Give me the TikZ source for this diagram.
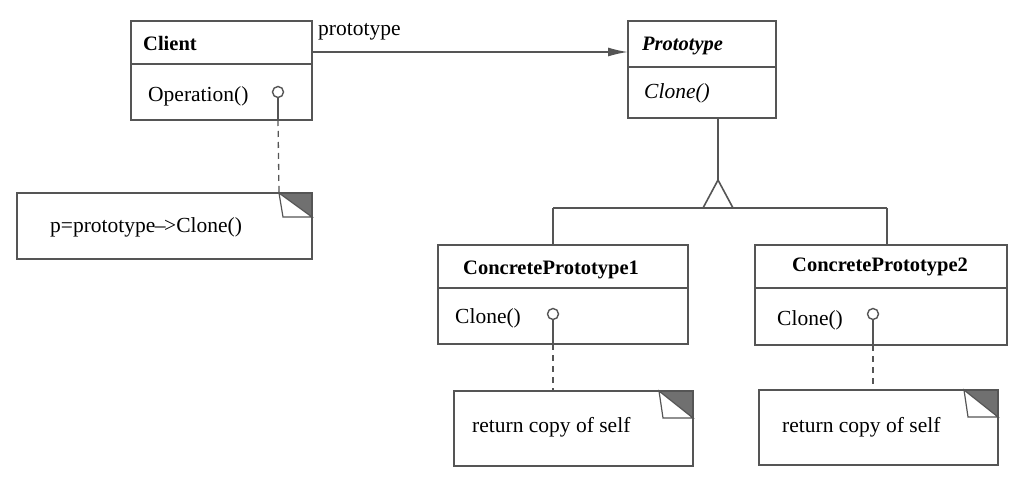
\documentclass[tikz,border=0pt]{standalone}
\usepackage{fontspec}
\setmainfont{Liberation Serif}
\usetikzlibrary{arrows.meta,calc}
\definecolor{linec}{HTML}{555555}
\definecolor{foldc}{HTML}{707070}
\begin{document}
\begin{tikzpicture}[x=1pt,y=-1pt,
  box/.style={draw=linec,line width=1.6pt,anchor=north west,inner sep=0pt,outer sep=0pt},
  txt/.style={anchor=west,inner sep=0pt,font=\fontsize{21.5}{25}\selectfont},
  btxt/.style={anchor=west,inner sep=0pt,font=\fontsize{20.5}{24}\selectfont\bfseries},
  conn/.style={draw=linec,line width=1.6pt},
  dashconn/.style={draw=linec,line width=1.3pt,dash pattern=on 6pt off 5pt},
  lolli/.style={circle,draw=linec,line width=1.4pt,minimum size=11pt,inner sep=0pt},
  foldtri/.style={fill=foldc,draw=linec,line width=1pt}]
\useasboundingbox (0,0) rectangle (1024,478);
% Client
\node[box,minimum width=181pt,minimum height=43pt] (clienthead) at (131,21) {};
\node[box,minimum width=181pt,minimum height=56pt] (clientbody) at (131,64) {};
\node[btxt] (tclient) at (143,43) {Client};
\node[txt] (top) at (148,96) {Operation()};
\node[lolli] (lp0) at (278,92) {};
% Prototype
\node[box,minimum width=148pt,minimum height=46pt] (protohead) at (628,21) {};
\node[box,minimum width=148pt,minimum height=51pt] (protobody) at (628,67) {};
\node[btxt,font=\fontsize{20.5}{24}\selectfont\bfseries\itshape] (tproto) at (642,46) {Prototype};
\node[txt,font=\fontsize{21.5}{25}\selectfont\itshape] (tpclone) at (644,93) {Clone()};
% association
\draw[conn,-{Latex[length=20pt,width=9pt]}] ([yshift=-9.5pt]clienthead.east) -- ([yshift=-9.5pt]clienthead.east -| protohead.west);
\node[txt] (tassoc) at (318,32) {prototype};
% Client note
\node[box,minimum width=295pt,minimum height=66pt] (note0) at (17,193) {};
\node[txt] (tnote0) at (50,227) {p=prototype{\kern-0.5pt}–{\kern-1.5pt}>Clone()};
% ConcretePrototype1
\node[box,minimum width=250pt,minimum height=43pt] (cp1head) at (438,245) {};
\node[box,minimum width=250pt,minimum height=56pt] (cp1body) at (438,288) {};
\node[btxt] (tcp1) at (463,270) {ConcretePrototype1};
\node[txt] (tcp1c) at (455,318) {Clone()};
\node[lolli] (lp1) at (553,314) {};
% ConcretePrototype2
\node[box,minimum width=252pt,minimum height=43pt] (cp2head) at (755,245) {};
\node[box,minimum width=252pt,minimum height=57pt] (cp2body) at (755,288) {};
\node[btxt] (tcp2) at (792,267) {ConcretePrototype2};
\node[txt] (tcp2c) at (777,320) {Clone()};
\node[lolli] (lp2) at (873,314) {};
% notes
\node[box,minimum width=239pt,minimum height=75pt] (note1) at (454,391) {};
\node[txt] (tnote1) at (472,427) {return copy of self};
\node[box,minimum width=239pt,minimum height=75pt] (note2) at (759,390) {};
\node[txt] (tnote2) at (782,427) {return copy of self};
% folds
\foreach \n/\w/\h in {note0/33/24,note1/34/27,note2/34/27}{
  \coordinate (\n f) at ([xshift=-\w pt]\n.north east);
  \fill[foldc] (\n f) -- (\n.north east) -- ([yshift=-\h pt]\n.north east) -- cycle;
  \draw[linec,line width=1.2pt,fill=white] (\n f) -- ([xshift=-\w pt+4pt,yshift=-\h pt]\n.north east) -- ([yshift=-\h pt]\n.north east) -- cycle;
  \draw[linec,line width=1.6pt] (\n.north west) -- (\n.north east) -- (\n.south east);
}
% lollipop stems and dashed links
\draw[conn,line width=1.4pt] (lp0.south) -- (lp0.south |- clientbody.south);
\draw[dashconn] (lp0.south |- clientbody.south) -- (note0f);
\draw[conn,line width=1.4pt] (lp1.south) -- (lp1.south |- cp1body.south);
\draw[dashconn] (lp1.south |- cp1body.south) -- (lp1.south |- note1.north);
\draw[conn,line width=1.4pt] (lp2.south) -- (lp2.south |- cp2body.south);
\draw[dashconn] (lp2.south |- cp2body.south) -- (lp2.south |- note2.north);
% inheritance
\coordinate (apex) at (718,180);
\coordinate (j1) at (553,208);
\coordinate (j2) at (887,208);
\draw[conn] (apex |- protobody.south) -- (apex);
\draw[conn] (j1) -- (j2);
\draw[conn] (j1) -- (j1 |- cp1head.north);
\draw[conn] (j2) -- (j2 |- cp2head.north);
\draw[conn,fill=white,line join=miter] (apex) -- ([xshift=-15pt,yshift=-28pt]apex) -- ([xshift=15pt,yshift=-28pt]apex) -- cycle;
\end{tikzpicture}
\end{document}
